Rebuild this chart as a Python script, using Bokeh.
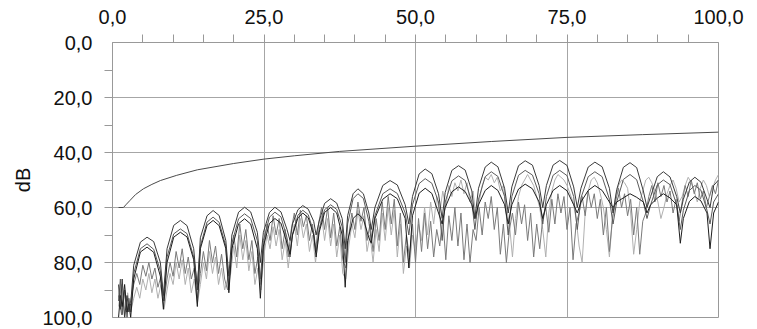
from bokeh.plotting import figure
from bokeh.models import Range1d, FixedTicker
from bokeh.embed import file_html
from bokeh.resources import INLINE

# ---------------- data ----------------
x_ticks = [0, 25, 50, 75, 100]
x_labels = ["0,0", "25,0", "50,0", "75,0", "100,0"]
x_minor = [5, 10, 15, 20, 25, 30, 35, 40, 45, 50, 55, 60, 65, 70, 75, 80, 85, 90, 95]
y_ticks = [0, 20, 40, 60, 80, 100]
y_labels = ["0,0", "20,0", "40,0", "60,0", "80,0", "100,0"]
y_minor = [10, 20, 30, 40, 50, 60, 70, 80, 90]

# smooth reference curve
ref_x = [1.0, 1.8, 2.3, 2.9, 3.8, 5.1, 6.5, 7.9, 10.6, 14.0, 20.0, 25.0, 30.0, 37.5, 50.0, 62.5, 75.0, 87.5, 100.0]
ref_y = [60.0, 60.0, 58.8, 57.4, 55.3, 53.2, 51.6, 50.2, 48.3, 46.3, 44.0, 42.4, 41.2, 39.6, 37.7, 36.0, 34.5, 33.5, 32.6]

# lobed series (shared x)
lobe_x = [1.0, 1.3, 1.6, 2.0, 2.4, 2.7,
          3.0, 3.5, 4.6, 5.7, 6.8, 7.9,
          8.4, 9.0, 10.1, 11.2, 12.3, 13.4,
          14.0, 14.5, 15.6, 16.6, 17.6, 18.7,
          19.2, 19.7, 20.8, 21.8, 22.8, 23.9,
          24.4, 24.9, 25.9, 26.8, 27.8, 28.8,
          29.3, 29.7, 30.6, 31.4, 32.3, 33.2,
          33.6, 34.1, 35.0, 36.0, 37.0, 37.9,
          38.4, 38.8, 39.7, 40.5, 41.4, 42.3,
          42.7, 43.3, 44.6, 45.8, 47.0, 48.3,
          48.9, 49.5, 50.6, 51.6, 52.7, 53.8,
          54.4, 54.9, 56.0, 57.1, 58.2, 59.3,
          59.8, 60.4, 61.5, 62.5, 63.6, 64.7,
          65.3, 65.9, 67.0, 68.1, 69.3, 70.4,
          71.0, 71.6, 72.7, 73.8, 75.0, 76.1,
          76.7, 77.3, 78.5, 79.6, 80.8, 82.0,
          82.6, 83.2, 84.3, 85.4, 86.5, 87.6,
          88.2, 88.8, 89.9, 90.9, 92.0, 93.1,
          93.7, 94.2, 95.2, 96.1, 97.1, 98.1,
          98.6, 99.2, 100.0]

series_a = [88, 97, 86, 100, 92, 98,
            95, 81, 72.6, 70.8, 72.4, 80,
            92, 75, 66.5, 64.7, 66.6, 75,
            90, 71, 63, 61.1, 62.9, 72,
            85, 70, 61.7, 59.9, 61.6, 69,
            80, 69, 61.8, 59.9, 61.6, 68,
            72, 66, 60.8, 59.3, 60.6, 65,
            70, 65, 58.5, 56.8, 58.4, 64,
            75, 63, 55, 53.2, 55, 62,
            68, 60, 52, 50.2, 51.8, 59,
            66, 56, 47.8, 46.0, 47.7, 55,
            64, 54.5, 46.5, 44.8, 46.4, 54,
            64, 53, 45.3, 43.5, 45.2, 53,
            62, 52.5, 44.8, 43.0, 44.6, 52,
            60, 52, 44.6, 42.9, 44.7, 52.5,
            60, 53, 45.3, 43.5, 45.2, 53,
            62, 53.5, 45.4, 43.7, 45.5, 54,
            60, 56, 48.8, 47.0, 48.9, 56,
            62, 57, 50.7, 49.0, 50.8, 57,
            60, 52, 50]

series_b = [94, 86, 99, 90, 100, 93,
            98, 84, 75, 73.2, 75.2, 83,
            94, 78, 69.6, 67.8, 69.5, 78,
            88, 74, 65.3, 63.5, 65.4, 74,
            90, 73, 64.1, 62.3, 64, 72,
            86, 72, 63.5, 61.7, 63.4, 71,
            78, 70, 62.8, 61, 62.6, 69,
            76, 68, 60.8, 59, 60.7, 67,
            80, 66, 56.8, 55, 56.7, 65,
            72, 63, 55, 53.2, 54.9, 62,
            70, 59, 51.3, 49.5, 51.2, 58,
            72, 58, 50.3, 48.5, 50.2, 58,
            68, 57, 48.8, 47, 48.7, 56,
            70, 56, 48.3, 46.5, 48.2, 55,
            66, 56, 48.3, 46.5, 48.4, 56,
            68, 56.5, 48.8, 47, 48.8, 57,
            66, 58, 49.8, 48, 49.9, 58,
            64, 59, 51.8, 50, 51.7, 59,
            68, 61, 53.8, 52, 53.7, 61,
            66, 58, 55]

series_c = [100, 92, 96, 88, 98, 95,
            100, 86, 76.2, 74.4, 76.3, 85,
            97, 80, 70.8, 69, 70.7, 79,
            96, 75, 66.5, 64.7, 66.6, 75,
            91, 75, 65.9, 64.1, 66, 75,
            93, 74, 65.8, 64, 65.7, 73,
            77, 70, 63.8, 62, 63.7, 70,
            78, 69, 61.8, 60, 62, 70,
            89, 72, 64, 62.3, 64.2, 71,
            73, 64, 57, 55, 56.8, 64,
            82, 63, 54.8, 53, 54.9, 62,
            66, 60, 54.3, 52.5, 54.2, 59,
            64, 59, 53.8, 52, 53.8, 59,
            66, 59, 53.3, 51.5, 53.2, 58,
            64, 59, 53.8, 52, 53.9, 59,
            62, 58, 53.8, 52, 53.8, 58,
            60, 58, 56.5, 55, 56.3, 58,
            62, 59, 56.6, 55, 56.5, 59,
            73, 64, 57.8, 56, 57.6, 62,
            75, 62, 58]

# noisy series, sampled every 0.5 from 1.0
series_d = [92, 99, 90, 97, 94, 88, 84, 88, 81, 85,
            80, 86, 82, 89, 85, 94, 86, 80, 85, 76,
            82, 75, 84, 78, 86, 82, 93, 84, 76, 83,
            72, 80, 74, 84, 77, 86, 90, 80, 70, 78,
            66, 75, 68, 79, 72, 84, 78, 88, 74, 66,
            72, 63, 70, 64, 75, 68, 78, 68, 62, 70,
            61, 67, 63, 72, 66, 76, 66, 60, 68, 60,
            71, 62, 74, 67, 79, 82, 70, 62, 68, 58,
            65, 60, 72, 66, 76, 64, 72, 58, 68, 56,
            66, 57, 74, 62, 80, 70, 78, 66, 80, 64,
            76, 62, 75, 65, 78, 68, 74, 64, 79, 63,
            72, 60, 74, 62, 79, 66, 80, 68, 72, 60,
            70, 58, 64, 56, 68, 60, 77, 66, 80, 68,
            62, 70, 58, 66, 59, 72, 62, 78, 66, 75,
            64, 60, 69, 57, 66, 55, 62, 56, 68, 60,
            79, 66, 62, 56, 63, 54, 60, 55, 64, 57,
            70, 60, 76, 64, 58, 53, 60, 55, 63, 57,
            70, 60, 77, 65, 62, 56, 52, 58, 51, 56,
            52, 58, 54, 62, 57, 65, 58, 52, 56, 50,
            55, 51, 57, 54, 60, 56, 52, 55, 50]

series_e = [96, 88, 100, 91, 98, 93, 89, 93, 86, 90,
            84, 91, 86, 93, 88, 97, 90, 84, 88, 80,
            86, 79, 88, 82, 91, 86, 95, 88, 80, 86,
            76, 84, 78, 88, 82, 90, 86, 84, 74, 82,
            70, 79, 72, 83, 76, 88, 82, 90, 77, 70,
            75, 67, 74, 68, 79, 72, 82, 72, 66, 74,
            64, 71, 66, 76, 70, 80, 70, 63, 72, 64,
            74, 66, 78, 70, 84, 86, 74, 66, 71, 61,
            68, 63, 76, 70, 80, 68, 76, 62, 72, 60,
            70, 61, 78, 66, 84, 74, 82, 70, 76, 66,
            72, 60, 70, 58, 66, 56, 62, 54, 60, 52,
            56, 51, 54, 50, 55, 51, 58, 54, 64, 58,
            52, 49, 50, 48, 51, 49, 54, 52, 60, 66,
            78, 64, 56, 52, 50, 48, 50, 52, 56, 60,
            68, 78, 62, 54, 50, 48, 49, 50, 52, 55,
            58, 64, 74, 80, 62, 54, 50, 49, 51, 55,
            60, 68, 78, 64, 56, 52, 50, 51, 53, 62,
            77, 68, 58, 54, 50, 49, 51, 54, 58, 64,
            60, 55, 52, 50, 53, 58, 56, 52, 49, 51,
            54, 58, 53, 50, 52, 56, 53, 50, 48]
noise_x = [1.0 + 0.5 * i for i in range(len(series_d))]

# ---------------- figure ----------------
FONT = "Liberation Sans"
p = figure(width=752, height=328,
           x_range=Range1d(0, 100), y_range=Range1d(100, 0),
           x_axis_location="above",
           output_backend="svg", toolbar_location=None,
           min_border_left=112, min_border_right=34,
           min_border_top=42, min_border_bottom=11)

p.background_fill_color = "white"
p.border_fill_color = "white"
p.outline_line_color = "#999999"
p.outline_line_width = 1

for ax, ticks, labels, minor in ((p.xaxis[0], x_ticks, x_labels, x_minor),
                                 (p.yaxis[0], y_ticks, y_labels, y_minor)):
    ax.ticker = FixedTicker(ticks=ticks, minor_ticks=minor)
    ax.major_label_overrides = {t: l for t, l in zip(ticks, labels)}
    ax.major_label_text_font = FONT
    ax.major_label_text_font_size = "20px"
    ax.major_label_text_color = "#111111"
    ax.axis_line_color = "#999999"
    ax.major_tick_out = 0
    ax.major_tick_in = 0
    ax.minor_tick_out = 8
    ax.minor_tick_in = 0
    ax.minor_tick_line_color = "#999999"

p.xaxis.major_label_standoff = 11
p.yaxis.major_label_standoff = 12
p.yaxis.axis_label = "dB"
p.yaxis.axis_label_text_font = FONT
p.yaxis.axis_label_text_font_size = "20px"
p.yaxis.axis_label_text_font_style = "normal"
p.yaxis.axis_label_text_color = "#111111"
p.yaxis.axis_label_standoff = 5

p.xgrid.grid_line_color = "#a6a6a6"
p.ygrid.grid_line_color = "#a6a6a6"
p.xgrid.grid_line_width = 1
p.ygrid.grid_line_width = 1

p.line(noise_x, series_e, line_color="#b0b0b0", line_width=1)
p.line(noise_x, series_d, line_color="#7a7a7a", line_width=1)
p.line(lobe_x, series_b, line_color="#5a5a5a", line_width=1)
p.line(lobe_x, series_c, line_color="#1e1e1e", line_width=1)
p.line(lobe_x, series_a, line_color="#3a3a3a", line_width=1)
p.line(ref_x, ref_y, line_color="#4a4a4a", line_width=1)

open("out.html", "w").write(file_html(p, INLINE))
